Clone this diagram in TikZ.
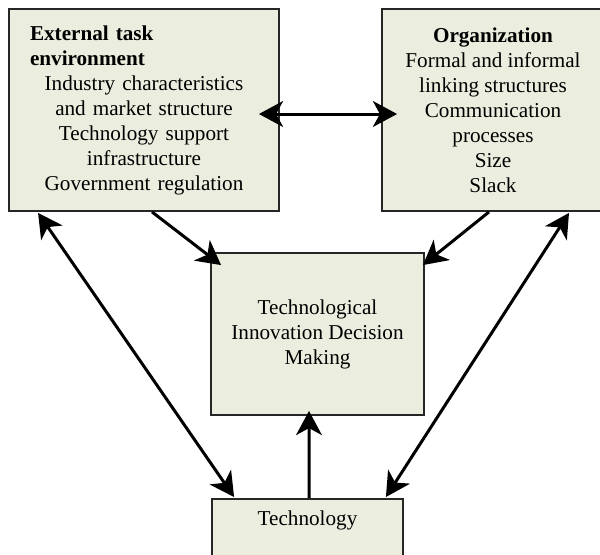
\documentclass[tikz,border=0pt]{standalone}
\usepackage{fontspec}
\setmainfont{Liberation Serif}
\usepackage{xcolor}
\usetikzlibrary{arrows.meta,calc}
\definecolor{boxfill}{RGB}{235,238,222}
\tikzset{>={Stealth[length=14.5pt,width=15.5pt,inset=4.2pt]}}
\tikzset{
  box/.style={draw=black!85,line width=1.1pt,fill=boxfill,inner sep=0pt,
    font=\fontsize{12.7}{15}\selectfont,align=center},
  link/.style={line width=1.8pt,black}
}

\begin{document}
\begin{tikzpicture}[x=0.6pt,y=-0.6pt]
  \clip (0,0) rectangle (600,555);

  % Boxes
  \node[box,minimum width=162pt,minimum height=121.2pt,text width=136.8pt] (ext) at (144,110)
    {\makebox[\linewidth][l]{\bfseries External task}\\
     \makebox[\linewidth][l]{\bfseries environment}\\
     Industry characteristics\\ and market structure\\
     Technology support\\ infrastructure\\ Government regulation};
  \node[box,minimum width=133.2pt,minimum height=121.2pt] (org) at (493,110)
    {\textbf{Organization}\\ Formal and informal\\ linking structures\\
     Communication\\ processes\\ Size\\ Slack};
  \node[box,minimum width=127.8pt,minimum height=97.2pt] (tidm) at (317.5,334)
    {Technological\\ Innovation Decision\\ Making};
  \node[box,anchor=north,minimum width=114.6pt,text height=16.2pt,text depth=36pt] (tech) at (307.5,498)
    {Technology};

  % Arrows
  \draw[link,<->] ([shift={(-21,4)}]ext.east) -- ([shift={(16,4)}]org.west);
  \draw[link,->] ([shift={(8,0)}]ext.south) -- ([shift={(11,13)}]tidm.north west);
  \draw[link,->] ([shift={(-4,0)}]org.south) -- ([shift={(-2,13)}]tidm.north east);
  \draw[link,<->] ([shift={(30,1)}]ext.south west) -- ([shift={(23,-1)}]tech.north west);
  \draw[link,<->] ([shift={(76,1)}]org.south) -- ([shift={(-18,-1)}]tech.north east);
  \draw[link,->] ([xshift=0.9pt]tech.north) -- ([shift={(1.5,-5)}]tech.north |- tidm.south);
\end{tikzpicture}
\end{document}
